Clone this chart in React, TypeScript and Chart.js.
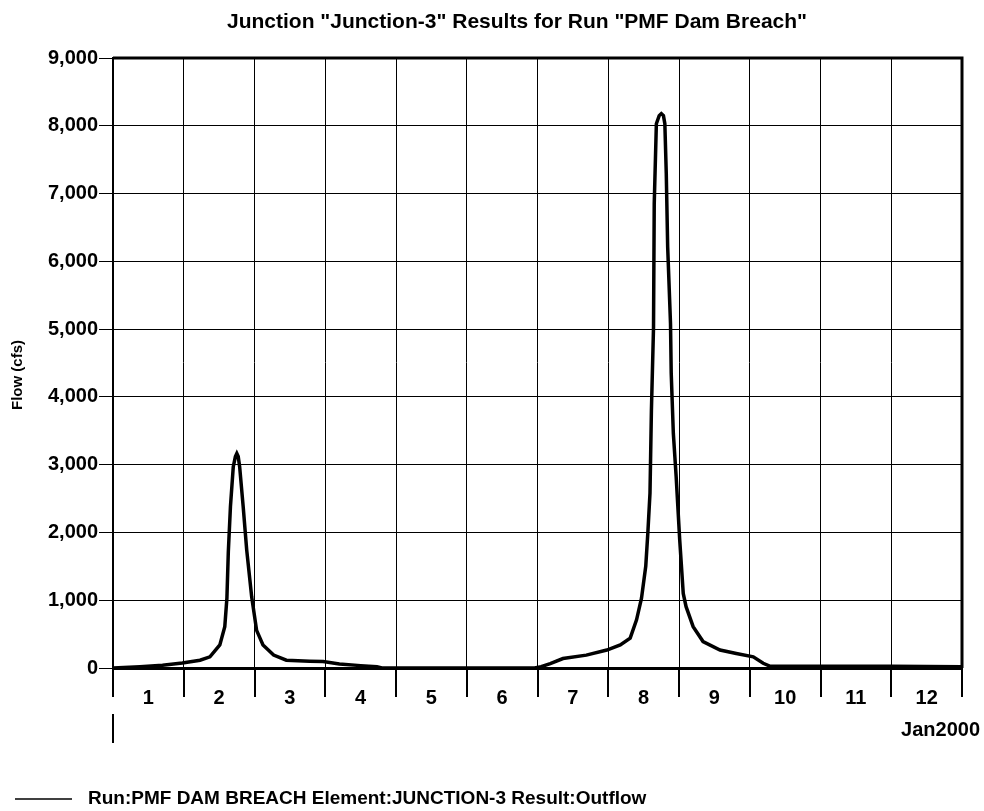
import React, { useEffect, useRef } from "react";
import { Chart, registerables } from "chart.js";

Chart.register(...registerables);

const titleText = 'Junction "Junction-3" Results for Run "PMF Dam Breach"';
const yAxisTitle = "Flow (cfs)";
const legendText = "Run:PMF DAM BREACH Element:JUNCTION-3 Result:Outflow";
const dateLabel = "Jan2000";
const dayLabels = ["1", "2", "3", "4", "5", "6", "7", "8", "9", "10", "11", "12"];
const yMin = 0;
const yMax = 9000;
const yStep = 1000;

const timeDays = [
  1.0, 1.38, 1.7, 1.98, 2.23, 2.37, 2.51, 2.58, 2.61, 2.63, 2.66, 2.7, 2.73, 2.75, 2.77, 2.79,
  2.84, 2.89, 2.96, 3.03, 3.12, 3.27, 3.45, 3.78, 3.97, 4.2, 4.5, 4.73, 4.8, 6.96, 7.05, 7.18,
  7.36, 7.69, 7.98, 8.17, 8.31, 8.4, 8.47, 8.53, 8.56, 8.59, 8.61, 8.64, 8.65, 8.68, 8.72, 8.75,
  8.78, 8.8, 8.82, 8.84, 8.88, 8.89, 8.92, 8.96, 9.01, 9.06, 9.1, 9.2, 9.34, 9.58, 9.81, 10.05,
  10.19, 10.29, 11.0, 12.0, 13.0,
];
const flowCfs = [
  0, 20, 40, 75, 115, 165, 340, 610, 1030, 1715, 2380, 2970, 3120, 3165, 3120, 2970,
  2380, 1740, 1050, 555, 340, 190, 115, 100, 95, 60, 35, 20, 0, 0, 20, 65,
  140, 190, 265, 340, 440, 710, 1030, 1500, 2000, 2580, 3800, 5030, 6850, 8030, 8150, 8180,
  8150, 8030, 7300, 6210, 5080, 4350, 3460, 2820, 1890, 1100, 905, 610, 390, 265, 215, 165,
  70, 25, 25, 25, 20,
];

const FONT = '"Liberation Sans", Arial, Helvetica, sans-serif';

const decorPlugin = {
  id: "decor",
  afterDraw(chart: any) {
    const { ctx, chartArea: a } = chart;
    const x = chart.scales.x;
    ctx.save();
    ctx.fillStyle = "#000";
    ctx.strokeStyle = "#000";
    // title
    ctx.font = `bold 21px ${FONT}`;
    ctx.textAlign = "center";
    ctx.textBaseline = "middle";
    ctx.fillText(titleText, 517, 22);
    // y axis title
    ctx.save();
    ctx.translate(18, 375);
    ctx.rotate(-Math.PI / 2);
    ctx.font = `bold 15px ${FONT}`;
    ctx.fillText(yAxisTitle, 0, 0);
    ctx.restore();
    // frame top / right
    ctx.lineWidth = 3;
    ctx.beginPath();
    ctx.moveTo(a.left, a.top);
    ctx.lineTo(a.right, a.top);
    ctx.lineTo(a.right, a.bottom);
    ctx.stroke();
    // x tick marks at day boundaries
    ctx.lineWidth = 2;
    for (let d = 1; d <= dayLabels.length + 1; d++) {
      const px = Math.round(x.getPixelForValue(d));
      ctx.beginPath();
      ctx.moveTo(px, a.bottom);
      ctx.lineTo(px, a.bottom + 29);
      ctx.stroke();
    }
    // month start marker
    const p0 = Math.round(x.getPixelForValue(1));
    ctx.beginPath();
    ctx.moveTo(p0, a.bottom + 46);
    ctx.lineTo(p0, a.bottom + 75);
    ctx.stroke();
    // date label
    ctx.font = `bold 20px ${FONT}`;
    ctx.textAlign = "right";
    ctx.fillText(dateLabel, 980, 730);
    // legend
    ctx.lineWidth = 1.5;
    ctx.beginPath();
    ctx.moveTo(15, 799);
    ctx.lineTo(72, 799);
    ctx.stroke();
    ctx.font = `bold 19px ${FONT}`;
    ctx.textAlign = "left";
    ctx.fillText(legendText, 88, 799);
    ctx.restore();
  },
};

export default function App() {
  const ref = useRef<HTMLCanvasElement | null>(null);
  useEffect(() => {
    document.body.style.margin = "0";
    const canvas = ref.current;
    if (!canvas) return;
    const chart = new Chart(canvas, {
      type: "line",
      data: {
        datasets: [
          {
            label: legendText,
            data: timeDays.map((t, i) => ({ x: t, y: flowCfs[i] })),
            borderColor: "#000",
            borderWidth: 3.5,
            pointRadius: 0,
            tension: 0,
            fill: false,
          },
        ],
      },
      options: {
        responsive: false,
        animation: false,
        events: [],
        layout: { autoPadding: false, padding: { top: 58, left: 0, right: 22, bottom: 83 } },
        plugins: { legend: { display: false }, title: { display: false }, tooltip: { enabled: false } },
        scales: {
          x: {
            type: "linear",
            min: 1,
            max: dayLabels.length + 1,
            afterFit: (s: any) => {
              s.height = 60;
            },
            grid: {
              color: (c: any) =>
                c.tick && Number.isInteger(c.tick.value) ? "#000" : "rgba(0,0,0,0)",
              lineWidth: 1,
              drawTicks: false,
            },
            border: { display: true, color: "#000", width: 3 },
            ticks: {
              stepSize: 0.5,
              autoSkip: false,
              maxRotation: 0,
              padding: 18,
              color: "#000",
              font: { family: FONT, size: 20, weight: "bold" },
              callback: (v: any) => {
                const n = Number(v);
                if (Number.isInteger(n)) return "";
                return dayLabels[Math.floor(n) - 1] ?? "";
              },
            },
          },
          y: {
            min: yMin,
            max: yMax,
            afterFit: (s: any) => {
              s.width = 113;
            },
            grid: { color: "#000", lineWidth: 1, tickLength: 14, tickColor: "#000" },
            border: { display: true, color: "#000", width: 2 },
            ticks: {
              stepSize: yStep,
              padding: 1,
              color: "#000",
              font: { family: FONT, size: 20, weight: "bold" },
              callback: (v: any) => Number(v).toLocaleString("en-US"),
            },
            title: { display: false },
          },
        },
      },
      plugins: [decorPlugin],
    });
    return () => chart.destroy();
  }, []);
  return <canvas ref={ref} width={984} height={811} style={{ display: "block" }} />;
}
